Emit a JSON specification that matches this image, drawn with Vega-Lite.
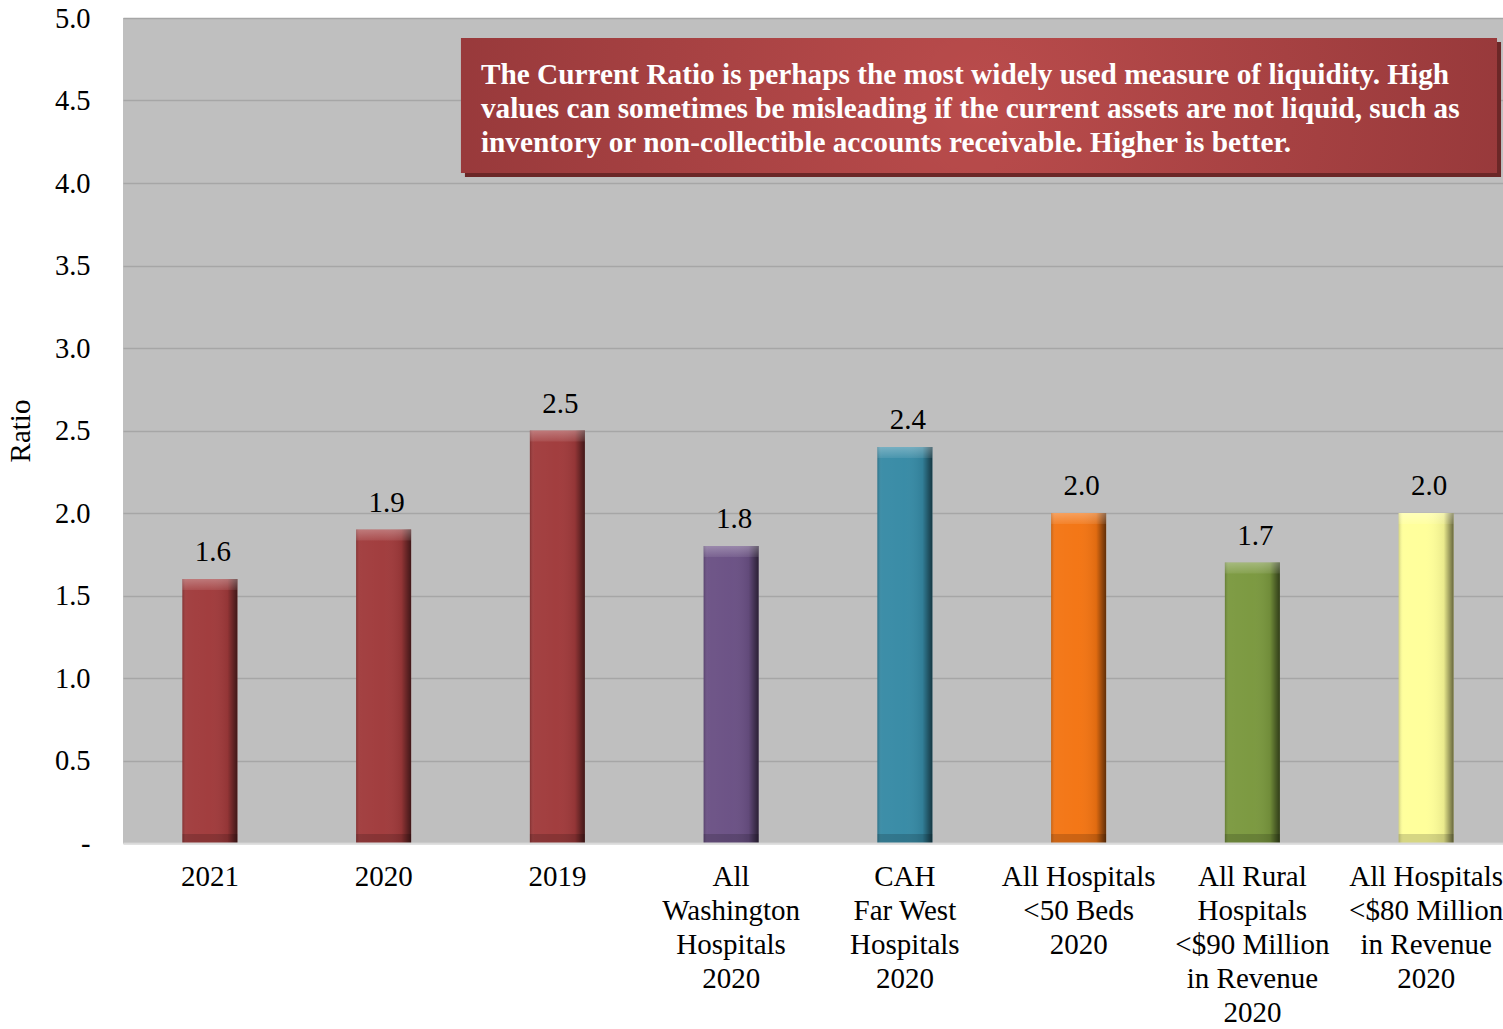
{
  "$schema": "https://vega.github.io/schema/vega-lite/v6.json",
  "width": 1390,
  "height": 825,
  "autosize": {"type": "none"},
  "padding": {"left": 123, "top": 18, "right": 0, "bottom": 186},
  "background": "white",
  "config": {
    "font": "Liberation Serif",
    "view": {"fill": "#BFBFBF", "stroke": null}
  },
  "data": {
    "values": [
      {"group": "2021", "ratio": 1.6},
      {"group": "2020", "ratio": 1.9},
      {"group": "2019", "ratio": 2.5},
      {"group": "All\nWashington\nHospitals\n2020", "ratio": 1.8},
      {"group": "CAH\nFar West\nHospitals\n2020", "ratio": 2.4},
      {"group": "All Hospitals\n<50 Beds\n2020", "ratio": 2.0},
      {"group": "All Rural\nHospitals\n<$90 Million\nin Revenue\n2020", "ratio": 1.7},
      {"group": "All Hospitals\n<$80 Million\nin Revenue\n2020", "ratio": 2.0}
    ]
  },
  "layer": [
    {
      "encoding": {
        "x": {
          "field": "group",
          "type": "nominal",
          "sort": null,
          "scale": {"paddingInner": 0.6835, "paddingOuter": 0.34175},
          "axis": {
            "title": null,
            "labelAngle": 0,
            "labelFontSize": 29,
            "labelColor": "black",
            "labelPadding": 19,
            "labelLineHeight": 34,
            "labelLimit": 0,
            "labelExpr": "split(datum.label, '\\n')",
            "ticks": false,
            "domain": true,
            "domainColor": "#DADADA",
            "domainWidth": 2,
            "grid": false,
            "zindex": 1
          }
        },
        "y": {
          "field": "ratio",
          "type": "quantitative",
          "scale": {"domain": [0, 5], "nice": false},
          "axis": {
            "title": "Ratio",
            "titleFontSize": 29,
            "titleFontWeight": "normal",
            "titleColor": "black",
            "titleX": -88,
            "titleY": 412.5,
            "values": [0, 0.5, 1, 1.5, 2, 2.5, 3, 3.5, 4, 4.5, 5],
            "labelExpr": "datum.value == 0 ? '-' : format(datum.value, '.1f')",
            "labelFontSize": 28.5,
            "labelColor": "black",
            "labelPadding": 33,
            "ticks": false,
            "domain": false,
            "grid": true,
            "gridColor": "#A6A6A6",
            "gridWidth": 1.5
          }
        }
      },
      "layer": [
        {
          "mark": {"type": "bar"},
          "encoding": {
            "color": {
              "field": "group",
              "type": "nominal",
              "sort": null,
              "scale": {
                "range": ["#A03A3B", "#A03A3B", "#A03A3B", "#6A5084", "#368AA5", "#F37412", "#7A983E", "#FFFF99"]
              },
              "legend": null
            }
          }
        },
        {
          "mark": {
            "type": "bar",
            "fill": {
              "gradient": "linear",
              "x1": 0, "y1": 0, "x2": 1, "y2": 0,
              "stops": [
                {"offset": 0, "color": "rgba(0,0,0,0.18)"},
                {"offset": 0.08, "color": "rgba(255,255,255,0.04)"},
                {"offset": 0.5, "color": "rgba(255,255,255,0.02)"},
                {"offset": 0.82, "color": "rgba(0,0,0,0.08)"},
                {"offset": 0.93, "color": "rgba(0,0,0,0.4)"},
                {"offset": 1, "color": "rgba(0,0,0,0.6)"}
              ]
            }
          }
        },
        {
          "mark": {
            "type": "bar",
            "y2Offset": 11,
            "fill": {
              "gradient": "linear",
              "x1": 0, "y1": 0, "x2": 0, "y2": 1,
              "stops": [
                {"offset": 0, "color": "rgba(255,255,255,0.3)"},
                {"offset": 1, "color": "rgba(255,255,255,0.08)"}
              ]
            }
          },
          "encoding": {"y2": {"field": "ratio"}}
        },
        {
          "mark": {"type": "bar", "yOffset": -9, "fill": "rgba(0,0,0,0.16)"},
          "encoding": {"y": {"datum": 0, "type": "quantitative"}, "y2": {"datum": 0}}
        },
        {
          "mark": {"type": "text", "dy": -18, "dx": 3, "baseline": "alphabetic", "fontSize": 29, "color": "black"},
          "encoding": {"text": {"field": "ratio", "type": "quantitative", "format": ".1f"}}
        }
      ]
    },
    {
      "data": {
        "values": [
          {"note": "The Current Ratio is perhaps the most widely used measure of liquidity. High\nvalues can sometimes be misleading if the current assets are not liquid, such as\ninventory or non-collectible accounts receivable. Higher is better."}
        ]
      },
      "encoding": {
        "x": {"datum": 1.945, "type": "quantitative", "scale": {"domain": [0, 8]}, "axis": null},
        "x2": {"datum": 7.908},
        "y": {"datum": 4.879, "type": "quantitative"},
        "y2": {"datum": 4.061}
      },
      "layer": [
        {
          "mark": {"type": "rect", "fill": "#6B2727", "xOffset": 4, "x2Offset": 4, "yOffset": 4, "y2Offset": 4}
        },
        {
          "mark": {
            "type": "rect",
            "fill": {
              "gradient": "radial",
              "x1": 0.5, "y1": 0.5, "r1": 0,
              "x2": 0.5, "y2": 0.5, "r2": 0.6,
              "stops": [
                {"offset": 0, "color": "#BA4C4C"},
                {"offset": 1, "color": "#923638"}
              ]
            }
          }
        },
        {
          "mark": {
            "type": "text",
            "align": "left",
            "baseline": "alphabetic",
            "fontSize": 29.3,
            "fontWeight": "bold",
            "color": "white",
            "lineHeight": 34,
            "lineBreak": "\n"
          },
          "encoding": {
            "x": {"datum": 2.06, "type": "quantitative"},
            "y": {"datum": 4.6, "type": "quantitative"},
            "x2": null,
            "y2": null,
            "text": {"field": "note", "type": "nominal"}
          }
        }
      ]
    }
  ],
  "resolve": {"scale": {"x": "independent"}}
}
